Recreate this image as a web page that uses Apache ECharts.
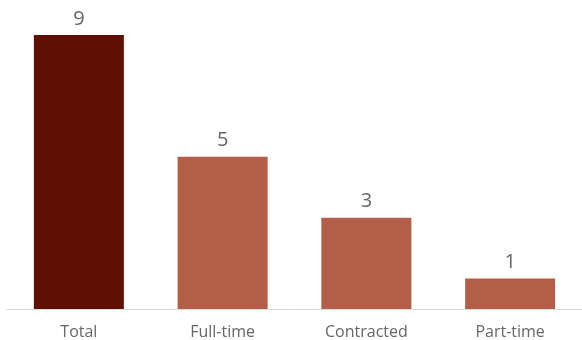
<!DOCTYPE html>
<html>
<head>
<meta charset="utf-8">
<script src="https://cdn.jsdelivr.net/npm/echarts@6/dist/echarts.min.js"></script>
<style>
  html, body { margin: 0; padding: 0; background: #fff; }
  #chart { width: 582px; height: 340px; }
</style>
</head>
<body>
<div id="chart"></div>
<script>
// Workforce breakdown by employment type
const categories = ['Total', 'Full-time', 'Contracted', 'Part-time'];
const counts = [9, 5, 3, 1];
const barColors = ['#5e1004', '#b35e47', '#b35e47', '#b35e47'];

const chart = echarts.init(document.getElementById('chart'), null, { renderer: 'canvas' });

chart.setOption({
  animation: false,
  grid: { left: 7, right: -1, top: 35, bottom: 31, containLabel: false },
  xAxis: {
    type: 'category',
    data: categories,
    axisLine: { show: true, lineStyle: { color: '#d9d9d9', width: 1 } },
    axisTick: { show: false },
    axisLabel: {
      color: '#666666',
      fontFamily: '"Open Sans", sans-serif',
      fontSize: 16,
      margin: 15
    }
  },
  yAxis: {
    type: 'value',
    min: 0,
    max: 9,
    show: false,
    splitLine: { show: false }
  },
  series: [{
    type: 'bar',
    barWidth: 90,
    data: counts.map((v, i) => ({ value: v, itemStyle: { color: barColors[i] } })),
    label: {
      show: true,
      position: 'top',
      distance: 6,
      color: '#666666',
      fontFamily: '"Open Sans", sans-serif',
      fontSize: 20
    }
  }]
});
</script>
</body>
</html>
